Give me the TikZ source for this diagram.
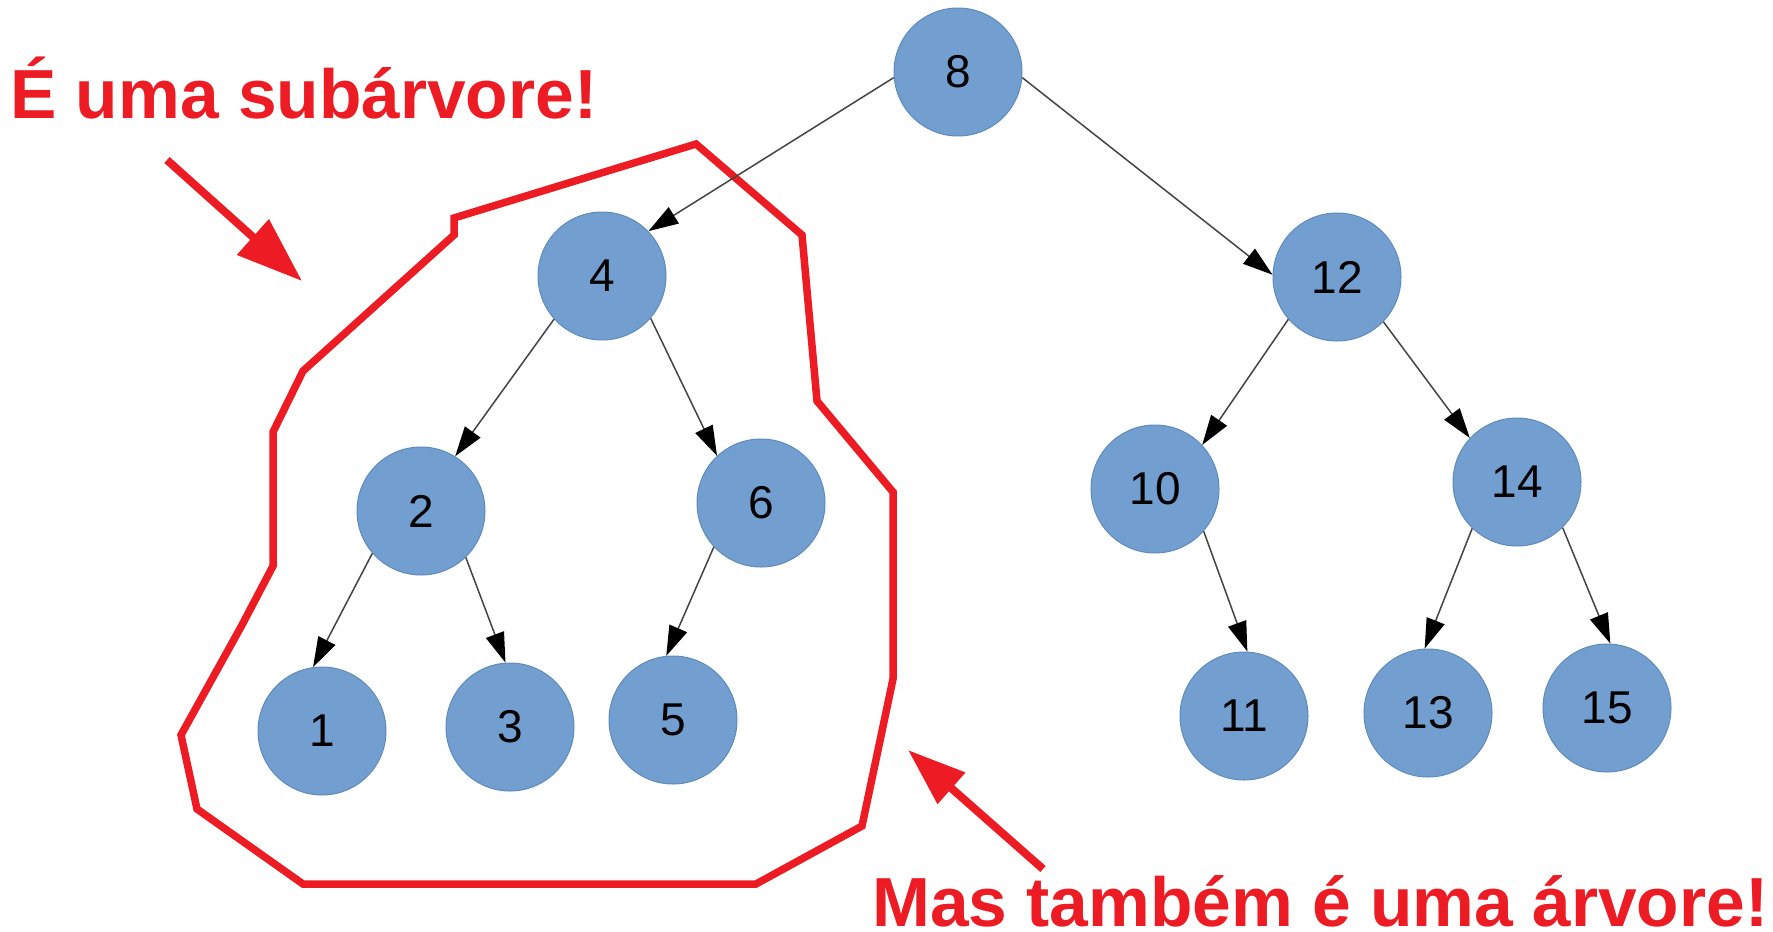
\documentclass[tikz,border=0pt]{standalone}
\usepackage{fontspec}
\setmainfont{Liberation Sans}
\usetikzlibrary{arrows.meta}
\definecolor{nodeblue}{HTML}{729FCF}
\definecolor{nodeedge}{HTML}{5F8BBA}
\definecolor{hlred}{HTML}{ED1C24}
\definecolor{edgegray}{HTML}{444444}
\begin{document}
\begin{tikzpicture}[x=1pt,y=-1pt,
  treenode/.style={circle,fill=nodeblue,draw=nodeedge,line width=1pt,minimum size=128pt,inner sep=0pt,
    font=\fontsize{46}{50}\selectfont,text=black},
  conn/.style={draw=edgegray,line width=1.5pt,-{Triangle[length=30pt,width=19pt,fill=black,color=black]}},
  redline/.style={draw=hlred,line width=7.5pt,line join=miter},
  redarrow/.style={draw=hlred,line width=8pt},
  redtext/.style={text=hlred,font=\fontsize{69.5}{72}\selectfont\bfseries,inner sep=0pt,anchor=base west}
]
\useasboundingbox[fill=white] (0,0) rectangle (1773,932);

% subtree outline
\draw[redline] (696,144) -- (802,235) -- (817,401) -- (893,492) -- (893,679) -- (862,826)
  -- (756,884) -- (303,884) -- (197,809) -- (181,735) -- (242,625) -- (273,566)
  -- (273,432) -- (303,371) -- (454,235) -- (454,218) -- cycle;

% nodes
\node[treenode] (n8)  at (958,72)  {8};
\node[treenode] (n4)  at (602,276) {4};
\node[treenode] (n12) at (1337,277) {12};
\node[treenode] (n2)  at (421,511) {2};
\node[treenode] (n6)  at (761,503) {6};
\node[treenode] (n10) at (1155,489) {10};
\node[treenode] (n14) at (1517,482) {14};
\node[treenode] (n1)  at (322,731) {1};
\node[treenode] (n3)  at (510,727) {3};
\node[treenode] (n5)  at (673,720) {5};
\node[treenode] (n11) at (1244,716) {11};
\node[treenode] (n13) at (1428,713) {13};
\node[treenode] (n15) at (1607,708) {15};

% connectors
\draw[conn] (n8.185)  -- (n4.44);
\draw[conn] (n8.355)  -- (n12.178);
\draw[conn] (n4.222)  -- (n2.58);
\draw[conn] (n4.319)  -- (n6.133);
\draw[conn] (n2.221)  -- (n1.98);
\draw[conn] (n2.314)  -- (n3.94);
\draw[conn] (n6.223)  -- (n5.96);
\draw[conn] (n12.221) -- (n10.43);
\draw[conn] (n12.316) -- (n14.137);
\draw[conn] (n10.319) -- (n11.87);
\draw[conn] (n14.226) -- (n13.93);
\draw[conn] (n14.315) -- (n15.87);

% labels
\node[redtext] (lab1) at (10,118) {É uma subárvore!};
\node[redtext] (lab2) at (872,926) {Mas também é uma árvore!};

% red arrows
\coordinate (a1s) at (167,160);
\coordinate (a1e) at (302,281);
\coordinate (a2s) at (1043,869);
\coordinate (a2e) at (908,750);
\draw[redarrow,-{Triangle[length=66pt,width=46pt,fill=hlred,color=hlred]}] (a1s) -- (a1e);
\draw[redarrow,-{Triangle[length=58pt,width=40pt,fill=hlred,color=hlred]}] (a2s) -- (a2e);
\end{tikzpicture}
\end{document}
